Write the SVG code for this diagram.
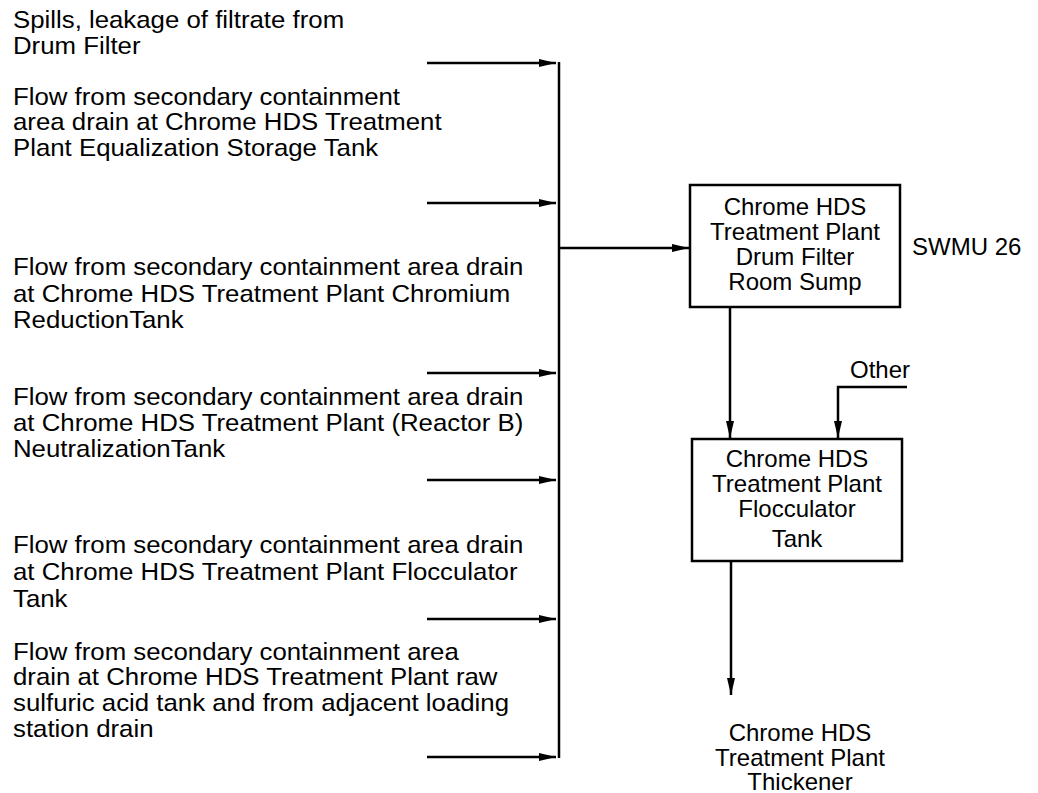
<svg xmlns="http://www.w3.org/2000/svg" width="1038" height="793" viewBox="0 0 1038 793">
<style>
text{font-family:"Liberation Sans",Arial,sans-serif;font-size:24px;fill:#000}
.c{text-anchor:middle}
.ln{stroke:#000;stroke-width:2.5;fill:none}
.box{stroke:#000;stroke-width:2.5;fill:#fff}
</style>
<defs>
<marker id="ah" markerUnits="userSpaceOnUse" markerWidth="18" markerHeight="10" refX="17" refY="4" orient="auto">
<path d="M0,0 L17,4 L0,8 Z" fill="#000"/>
</marker>
</defs>
<g id="labels" transform="matrix(1.075,0,0,1,13,0)">
<text x="0" y="28">Spills, leakage of filtrate from</text>
<text x="0" y="54">Drum Filter</text>
<text x="0" y="105">Flow from secondary containment</text>
<text x="0" y="130">area drain at Chrome HDS Treatment</text>
<text x="0" y="156">Plant Equalization Storage Tank</text>
<text x="0" y="275">Flow from secondary containment area drain</text>
<text x="0" y="302">at Chrome HDS Treatment Plant Chromium</text>
<text x="0" y="328">ReductionTank</text>
<text x="0" y="405">Flow from secondary containment area drain</text>
<text x="0" y="431">at Chrome HDS Treatment Plant (Reactor B)</text>
<text x="0" y="457">NeutralizationTank</text>
<text x="0" y="553">Flow from secondary containment area drain</text>
<text x="0" y="580">at Chrome HDS Treatment Plant Flocculator</text>
<text x="0" y="607">Tank</text>
<text x="0" y="660">Flow from secondary containment area</text>
<text x="0" y="685">drain at Chrome HDS Treatment Plant raw</text>
<text x="0" y="711">sulfuric acid tank and from adjacent loading</text>
<text x="0" y="737">station drain</text>
</g>
<g id="connectors">
<line class="ln" x1="559" y1="62" x2="559" y2="758"/>
<line class="ln" x1="427" y1="63" x2="556" y2="63" marker-end="url(#ah)"/>
<line class="ln" x1="427" y1="203" x2="556" y2="203" marker-end="url(#ah)"/>
<line class="ln" x1="427" y1="373" x2="556" y2="373" marker-end="url(#ah)"/>
<line class="ln" x1="427" y1="480" x2="556" y2="480" marker-end="url(#ah)"/>
<line class="ln" x1="427" y1="619" x2="556" y2="619" marker-end="url(#ah)"/>
<line class="ln" x1="427" y1="757" x2="556" y2="757" marker-end="url(#ah)"/>
<line class="ln" x1="559" y1="248" x2="689" y2="248" marker-end="url(#ah)"/>
<line class="ln" x1="730" y1="307" x2="730" y2="438" marker-end="url(#ah)"/>
<polyline class="ln" points="907,387 838,387 838,438" marker-end="url(#ah)"/>
<line class="ln" x1="731" y1="561" x2="731" y2="695" marker-end="url(#ah)"/>
</g>
<g id="sump">
<rect class="box" x="690" y="185" width="210" height="122"/>
<text class="c" x="795" y="215">Chrome HDS</text>
<text class="c" x="795" y="240">Treatment Plant</text>
<text class="c" x="795" y="265">Drum Filter</text>
<text class="c" x="795" y="290">Room Sump</text>
</g>
<g id="swmu">
<text x="912" y="255">SWMU 26</text>
</g>
<g id="other">
<text x="850" y="378">Other</text>
</g>
<g id="flocculator">
<rect class="box" x="692" y="439" width="210" height="122"/>
<text class="c" x="797" y="467">Chrome HDS</text>
<text class="c" x="797" y="492">Treatment Plant</text>
<text class="c" x="797" y="517">Flocculator</text>
<text class="c" x="797" y="547">Tank</text>
</g>
<g id="thickener">
<text class="c" x="800" y="741">Chrome HDS</text>
<text class="c" x="800" y="766">Treatment Plant</text>
<text class="c" x="800" y="790">Thickener</text>
</g>
</svg>
